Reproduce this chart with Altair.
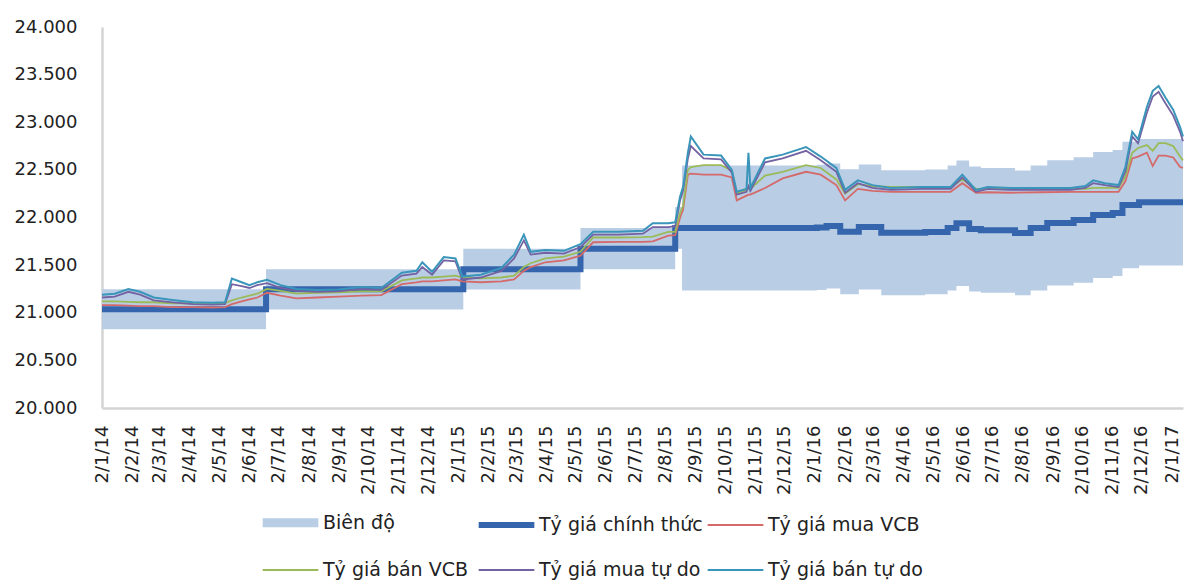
import altair as alt
import pandas as pd

# Series names in legend order, their colours and line widths
SERIES = [
    "Biên độ",
    "Tỷ giá chính thức",
    "Tỷ giá mua VCB",
    "Tỷ giá bán VCB",
    "Tỷ giá mua tự do",
    "Tỷ giá bán tự do",
]
COLORS = ["#b9cde5", "#3566ad", "#d46a6a", "#9bbb59", "#7462a2", "#3a95ba"]
WIDTHS = [9, 6, 1.8, 1.8, 1.8, 2]

# Official (central) rate and its trading band, as step changes
ref_dates = [
    "2014-01-02", "2014-06-19", "2015-01-07", "2015-05-07", "2015-08-12",
    "2015-08-19", "2016-01-04", "2016-01-14", "2016-01-28", "2016-02-16",
    "2016-03-10", "2016-04-24", "2016-05-17", "2016-05-26", "2016-06-08",
    "2016-06-20", "2016-07-25", "2016-08-10", "2016-08-27", "2016-09-23",
    "2016-10-13", "2016-11-02", "2016-11-12", "2016-11-29", "2017-01-13",
]
official = [
    21036, 21246, 21458, 21673, 21890,
    21890, 21896, 21911, 21850, 21900,
    21840, 21848, 21890, 21940, 21880,
    21865, 21838, 21890, 21943, 21974,
    22027, 22048, 22130, 22160, 22160,
]
band_low = [
    20826, 21034, 21243, 21456, 21671,
    21233, 21239, 21254, 21195, 21243,
    21185, 21193, 21233, 21282, 21224,
    21209, 21183, 21233, 21285, 21315,
    21366, 21387, 21466, 21495, 21495,
]
band_high = [
    21246, 21458, 21673, 21890, 22109,
    22547, 22553, 22568, 22506, 22557,
    22495, 22503, 22547, 22598, 22536,
    22521, 22493, 22547, 22601, 22633,
    22688, 22709, 22794, 22825, 22825,
]

# Bank (VCB) and free-market quotes
market_dates = [
    "2014-01-02", "2014-01-15", "2014-01-29", "2014-02-10", "2014-02-24",
    "2014-03-15", "2014-04-05", "2014-04-25", "2014-05-08", "2014-05-15",
    "2014-05-25", "2014-06-02", "2014-06-10", "2014-06-20", "2014-07-04",
    "2014-07-20", "2014-08-10", "2014-09-01", "2014-09-25", "2014-10-15",
    "2014-11-05", "2014-11-20", "2014-11-26", "2014-12-06", "2014-12-18",
    "2014-12-30", "2015-01-06", "2015-01-25", "2015-02-15", "2015-02-28",
    "2015-03-10", "2015-03-17", "2015-04-01", "2015-04-20", "2015-05-07",
    "2015-05-20", "2015-06-15", "2015-07-10", "2015-07-20", "2015-08-05",
    "2015-08-12", "2015-08-17", "2015-08-20", "2015-08-25", "2015-08-28",
    "2015-09-10", "2015-09-28", "2015-10-09", "2015-10-14", "2015-10-24",
    "2015-10-26", "2015-10-28", "2015-11-12", "2015-11-30", "2015-12-24",
    "2016-01-08", "2016-01-24", "2016-02-02", "2016-02-15", "2016-03-01",
    "2016-03-20", "2016-04-20", "2016-05-20", "2016-06-01", "2016-06-15",
    "2016-06-27", "2016-07-20", "2016-08-20", "2016-09-20", "2016-10-05",
    "2016-10-13", "2016-10-25", "2016-11-08", "2016-11-15", "2016-11-22",
    "2016-11-28", "2016-12-07", "2016-12-13", "2016-12-19", "2016-12-26",
    "2017-01-03", "2017-01-10", "2017-01-13",
]
vcb_buy = [
    21080, 21080, 21075, 21070, 21070,
    21060, 21060, 21055, 21060, 21090,
    21120, 21140, 21160, 21210, 21180,
    21150, 21160, 21170, 21180, 21185,
    21300, 21320, 21330, 21330, 21340,
    21350, 21330, 21320, 21330, 21350,
    21440, 21480, 21530, 21550, 21600,
    21740, 21745, 21745, 21750, 21810,
    21815, 22000, 22080, 22450, 22460,
    22450, 22450, 22420, 22180, 22230,
    22240, 22240, 22310, 22410, 22480,
    22450, 22340, 22180, 22300, 22280,
    22270, 22270, 22270, 22360, 22260,
    22265, 22260, 22265, 22270, 22270,
    22270, 22270, 22270, 22380, 22620,
    22640, 22680, 22540, 22650, 22650,
    22630, 22530, 22520,
]
vcb_sell = [
    21120, 21120, 21115, 21110, 21110,
    21100, 21100, 21095, 21100, 21130,
    21160, 21180, 21200, 21250, 21230,
    21200, 21210, 21215, 21225, 21225,
    21340, 21360, 21370, 21370, 21380,
    21390, 21370, 21360, 21370, 21390,
    21480, 21520, 21570, 21590, 21640,
    21790, 21790, 21795, 21800, 21850,
    21850, 22050, 22120, 22500, 22530,
    22550, 22550, 22490, 22250, 22290,
    22300, 22300, 22440, 22480, 22550,
    22520, 22400, 22250, 22350, 22330,
    22320, 22320, 22320, 22400, 22300,
    22300, 22300, 22300, 22300, 22300,
    22310, 22310, 22310, 22430, 22680,
    22730, 22760, 22700, 22780, 22780,
    22750, 22640, 22600,
]
free_buy = [
    21160, 21170, 21220, 21190, 21130,
    21110, 21090, 21085, 21090, 21300,
    21280, 21260, 21290, 21310, 21260,
    21230, 21220, 21225, 21250, 21240,
    21390, 21410, 21480, 21400, 21550,
    21540, 21350, 21370, 21440, 21570,
    21760, 21610, 21630, 21620, 21690,
    21820, 21820, 21830, 21900, 21900,
    21910, 22180, 22280, 22620, 22750,
    22620, 22610, 22470, 22240, 22270,
    22330, 22280, 22580, 22620, 22700,
    22600, 22480, 22260, 22360, 22310,
    22290, 22300, 22300, 22420, 22270,
    22300, 22290, 22290, 22290, 22310,
    22360, 22340, 22320, 22480, 22850,
    22780, 23100, 23270, 23320, 23200,
    23070, 22900, 22800,
]
free_sell = [
    21190, 21200, 21250, 21220, 21160,
    21135, 21110, 21105, 21110, 21360,
    21320, 21290, 21320, 21345, 21290,
    21250, 21240, 21245, 21270, 21260,
    21420, 21440, 21530, 21430, 21585,
    21570, 21380, 21400, 21470, 21610,
    21820, 21640, 21660, 21650, 21720,
    21850, 21850, 21860, 21940, 21940,
    21950, 22220, 22320, 22680, 22850,
    22660, 22650, 22500, 22270, 22300,
    22680, 22310, 22620, 22660, 22740,
    22640, 22520, 22290, 22390, 22340,
    22310, 22320, 22320, 22450, 22290,
    22320, 22310, 22310, 22310, 22330,
    22390, 22360, 22340, 22530, 22900,
    22820, 23160, 23330, 23380, 23260,
    23130, 22950, 22850,
]

band_df = pd.DataFrame({
    "date": pd.to_datetime(ref_dates),
    "lo": band_low,
    "hi": band_high,
})
official_df = pd.DataFrame({
    "date": pd.to_datetime(ref_dates),
    "value": official,
    "series": SERIES[1],
})
market_values = {
    SERIES[2]: vcb_buy,
    SERIES[3]: vcb_sell,
    SERIES[4]: free_buy,
    SERIES[5]: free_sell,
}
market_frames = [
    pd.DataFrame({
        "date": pd.to_datetime(market_dates),
        "value": vals,
        "series": name,
    })
    for name, vals in market_values.items()
]

# Monthly ticks on the 2nd of each month, Jan 2014 - Jan 2017
tick_values = [
    alt.DateTime(year=2014 + m // 12, month=m % 12 + 1, date=2)
    for m in range(37)
]

x_enc = alt.X(
    "date:T",
    title=None,
    scale=alt.Scale(
        domain=[alt.DateTime(year=2014, month=1, date=2),
                alt.DateTime(year=2017, month=1, date=13)],
        nice=False,
    ),
    axis=alt.Axis(
        values=tick_values,
        format="%-d/%-m/%y",
        labelAngle=270,
        labelFont="DejaVu Sans",
        labelFontSize=18,
        labelColor="#222222",
        labelPadding=17,
        labelOverlap=False,
        labelFlush=False,
        ticks=False,
        grid=False,
        domainColor="#d4d4d4",
        domainWidth=2.5,
    ),
)

y_scale = alt.Scale(domain=[20000, 24000], nice=False, zero=False)
y_axis = alt.Axis(
    values=list(range(20000, 24001, 500)),
    labelExpr="replace(format(datum.value, ','), ',', '.')",
    labelFont="DejaVu Sans",
    labelFontSize=18,
    labelColor="#222222",
    labelPadding=25,
    ticks=False,
    grid=False,
    domainColor="#d4d4d4",
    domainWidth=2.5,
)

legend = alt.Legend(
    title=None,
    orient="none",
    legendX=156,
    legendY=463,
    columns=3,
    direction="horizontal",
    symbolType="stroke",
    symbolSize=3100,
    labelFont="DejaVu Sans",
    labelFontSize=19,
    labelColor="#222222",
    labelLimit=400,
    labelOffset=0,
    columnPadding=-2,
    rowPadding=-10,
    symbolOpacity=1,
)

color_enc = alt.Color(
    "series:N",
    scale=alt.Scale(domain=SERIES, range=COLORS),
    legend=legend,
)
width_enc = alt.StrokeWidth(
    "series:N",
    scale=alt.Scale(type="ordinal", domain=SERIES, range=WIDTHS),
    legend=legend,
)

band = alt.Chart(band_df).mark_area(
    interpolate="step-after", color=COLORS[0]
).encode(
    x=x_enc,
    y=alt.Y("lo:Q", scale=y_scale, axis=y_axis, title=None),
    y2="hi:Q",
)

official_line = alt.Chart(official_df).mark_line(
    interpolate="step-after"
).encode(
    x=x_enc,
    y=alt.Y("value:Q", scale=y_scale, axis=y_axis, title=None),
    color=color_enc,
    strokeWidth=width_enc,
)

market_lines = [
    alt.Chart(frame).mark_line().encode(
        x=x_enc,
        y=alt.Y("value:Q", scale=y_scale, axis=y_axis, title=None),
        color=color_enc,
        strokeWidth=width_enc,
    )
    for frame in market_frames
]

chart = alt.layer(band, official_line, *market_lines).properties(
    width=1081,
    height=381,
    autosize=alt.AutoSizeParams(type="none"),
    padding={"left": 102, "top": 27, "right": 1, "bottom": 175},
).configure_view(stroke=None)

chart.save("out.html", embed_options={"renderer": "svg", "actions": False})
